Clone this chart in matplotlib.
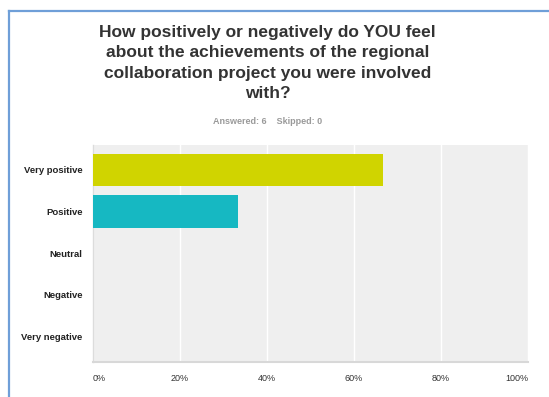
import numpy as np
import matplotlib.pyplot as plt
from matplotlib.lines import Line2D

# survey answers (percent of respondents)
answers = ["Very positive", "Positive", "Neutral", "Negative", "Very negative"]
percents = [66.67, 33.33, 0, 0, 0]
bar_colors = ["#d0d400", "#16b8c2", "#a0a0a0", "#a0a0a0", "#a0a0a0"]
xticks = [0, 20, 40, 60, 80, 100]
xtick_labels = ["0%", "20%", "40%", "60%", "80%", "100%"]

title = ("How positively or negatively do YOU feel\n"
         "about the achievements of the regional\n"
         "collaboration project you were involved\n"
         "with?")
subtitle = "Answered: 6    Skipped: 0"

plt.rcParams['font.family'] = ['Liberation Sans', 'DejaVu Sans']

W, H = 549, 397
fig = plt.figure(figsize=(W/100, H/100), dpi=100)
fig.patch.set_facecolor("white")

ax = fig.add_axes([93/W, 1-361.5/H, 435/W, 216.5/H])
ax.set_facecolor("#efefef")

y = np.arange(len(answers))
ax.barh(y, percents, height=0.78, color=bar_colors, zorder=3)

ax.set_xlim(0, 100)
ax.set_ylim(4.6, -0.6)
ax.set_xticks(xticks)
ax.set_xticklabels(xtick_labels, fontsize=6.5, color="#333333")
ax.set_yticks(y)
ax.set_yticklabels(answers, fontsize=6.8, fontweight="bold", color="#222222")
ax.tick_params(axis="both", length=0)
ax.tick_params(axis="x", pad=9)
ax.tick_params(axis="y", pad=7.5)

labels = ax.get_xticklabels()
labels[0].set_horizontalalignment("left")
labels[-1].set_horizontalalignment("right")

ax.grid(axis="x", color="white", linewidth=1, zorder=1)
ax.grid(axis="y", visible=False)
for side in ["top", "right"]:
    ax.spines[side].set_visible(False)
ax.spines["bottom"].set_color("#d8d8d8")
ax.spines["bottom"].set_linewidth(1.5)
ax.spines["left"].set_color("#dcdcdc")
ax.spines["left"].set_linewidth(1)

fig.text(267.5/W, 1-24.5/H, title, ha="center", va="top", fontsize=12.5,
         fontweight="bold", color="#333333", linespacing=1.47)
fig.text(267.5/W, 1-121/H, subtitle, ha="center", va="center", fontsize=6.5,
         fontweight="bold", color="#9a9a9a")

# blue frame along the top and left edge
frame_color = "#6f9fd8"
fig.add_artist(Line2D([8.5/W, 8.5/W], [1-10.5/H, 0], transform=fig.transFigure,
                      color=frame_color, linewidth=1.6))
fig.add_artist(Line2D([8.5/W, 1], [1-10.5/H, 1-10.5/H], transform=fig.transFigure,
                      color=frame_color, linewidth=1.6))

fig.savefig("out.png", dpi=100)
